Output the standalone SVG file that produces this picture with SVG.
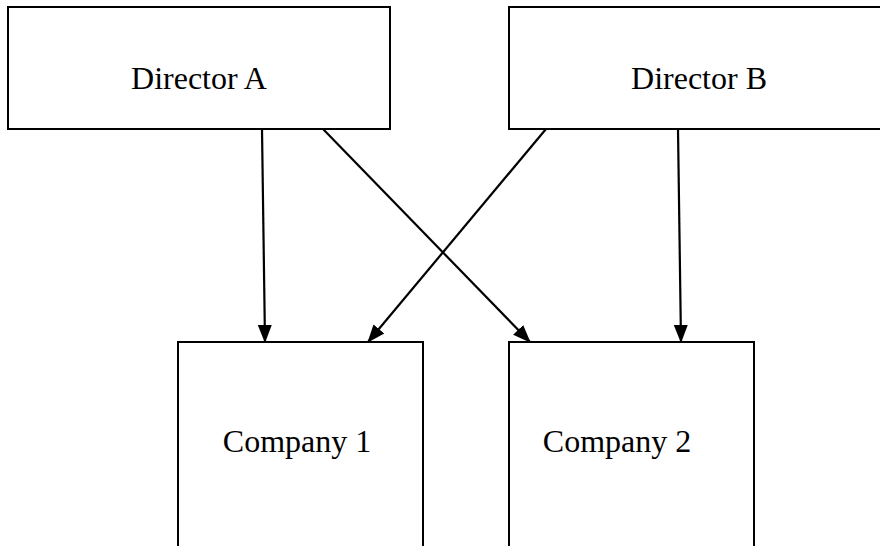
<svg xmlns="http://www.w3.org/2000/svg" width="880" height="546" viewBox="0 0 880 546">
<style>
.box{fill:#fff;stroke:#000;stroke-width:2}
.lbl{font-family:"Liberation Serif","Times New Roman",serif;font-size:32px;fill:#000;text-anchor:middle}
.conn{stroke:#000;stroke-width:2.2;fill:none;marker-end:url(#ah)}
</style>
<defs>
<marker id="ah" markerUnits="userSpaceOnUse" markerWidth="18" markerHeight="18" viewBox="0 0 18 18" refX="17" refY="9" orient="auto">
<path d="M0,2 L18,9 L0,16 Z" fill="#000"/>
</marker>
</defs>
<g id="directorA"><rect class="box" x="8" y="7" width="382" height="122"/><text class="lbl" x="199" y="89">Director A</text></g>
<g id="directorB"><rect class="box" x="509" y="7" width="382" height="122"/><text class="lbl" x="699" y="89">Director B</text></g>
<g id="company1"><rect class="box" x="178" y="342" width="245" height="220"/><text class="lbl" x="297" y="452">Company 1</text></g>
<g id="company2"><rect class="box" x="509" y="342" width="245" height="220"/><text class="lbl" x="617" y="452">Company 2</text></g>
<g id="connectors">
<line class="conn" x1="262" y1="129" x2="265" y2="342"/>
<line class="conn" x1="323" y1="129" x2="530" y2="342"/>
<line class="conn" x1="546" y1="129" x2="368" y2="342"/>
<line class="conn" x1="678" y1="129" x2="681" y2="342"/>
</g>
</svg>
